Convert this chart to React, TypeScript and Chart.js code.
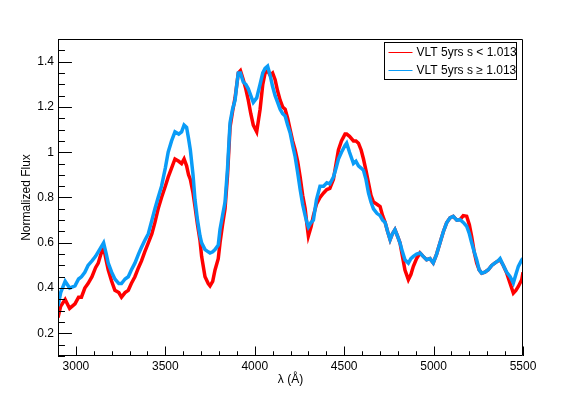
import React, { useEffect, useRef } from "react";
import { Chart, registerables } from "chart.js";

Chart.register(...registerables);

const WAVELENGTH = [
  2900, 2915, 2940, 2965, 2995, 3015, 3031, 3050, 3068, 3090, 3110, 3125, 3140, 3155, 3170, 3181,
  3200, 3218, 3240, 3255, 3275, 3293, 3310, 3330, 3350, 3367, 3385, 3405, 3425, 3442, 3460, 3479,
  3500, 3516, 3535, 3554, 3575, 3591, 3605, 3619, 3630, 3640, 3655, 3666, 3680, 3694, 3703, 3722,
  3740, 3750, 3765, 3778, 3796, 3806, 3820, 3834, 3848, 3862, 3876, 3890, 3900, 3908, 3920, 3936,
  3950, 3964, 3978, 3992, 4011, 4030, 4045, 4058, 4072, 4086, 4100, 4114, 4128, 4142, 4156, 4170,
  4184, 4198, 4212, 4226, 4240, 4254, 4268, 4282, 4292, 4300, 4315, 4328, 4345, 4365, 4385, 4403,
  4420, 4440, 4455, 4468, 4485, 4505, 4514, 4530, 4552, 4566, 4580, 4595, 4608, 4622, 4636, 4650,
  4664, 4683, 4701, 4715, 4729, 4743, 4757, 4770, 4784, 4798, 4812, 4826, 4840, 4859, 4873, 4887,
  4905, 4924, 4942, 4961, 4980, 4998, 5017, 5036, 5055, 5073, 5092, 5110, 5130, 5148, 5166, 5185,
  5200, 5213, 5227, 5241, 5255, 5269, 5287, 5306, 5325, 5344, 5360, 5372, 5390, 5409, 5428, 5446,
  5460, 5474, 5493, 5500,
];

const FLUX_LOW_S = [
  0.27, 0.32, 0.35, 0.31, 0.33, 0.36, 0.36, 0.40, 0.42, 0.45, 0.49, 0.51, 0.55, 0.58, 0.52, 0.48,
  0.43, 0.39, 0.38, 0.36, 0.38, 0.39, 0.42, 0.45, 0.49, 0.52, 0.56, 0.60, 0.64, 0.69, 0.75, 0.80,
  0.85, 0.89, 0.93, 0.97, 0.96, 0.95, 0.97, 0.94, 0.90, 0.88, 0.82, 0.76, 0.68, 0.61, 0.54, 0.45,
  0.42, 0.41, 0.43, 0.48, 0.53, 0.60, 0.68, 0.75, 0.90, 1.11, 1.18, 1.24, 1.30, 1.35, 1.36, 1.32,
  1.28, 1.23, 1.17, 1.12, 1.09, 1.19, 1.30, 1.35, 1.36, 1.34, 1.35, 1.32, 1.27, 1.23, 1.20, 1.19,
  1.15, 1.10, 1.05, 1.01, 0.96, 0.89, 0.81, 0.75, 0.68, 0.63, 0.67, 0.72, 0.77, 0.80, 0.82, 0.835,
  0.84, 0.88, 0.95, 1.01, 1.05, 1.08, 1.08, 1.07, 1.05, 1.05, 1.04, 1.01, 0.97, 0.92, 0.865, 0.81,
  0.78, 0.77, 0.76, 0.72, 0.69, 0.65, 0.614, 0.64, 0.658, 0.63, 0.60, 0.54, 0.48, 0.437, 0.46, 0.496,
  0.53, 0.555, 0.54, 0.525, 0.53, 0.511, 0.55, 0.60, 0.65, 0.688, 0.71, 0.717, 0.70, 0.702, 0.72, 0.717,
  0.68, 0.628, 0.56, 0.511, 0.48, 0.466, 0.47, 0.481, 0.50, 0.511, 0.52, 0.525, 0.50, 0.466, 0.42, 0.378,
  0.39, 0.407, 0.437, 0.47,
];

const FLUX_HIGH_S = [
  0.32, 0.38, 0.43, 0.40, 0.41, 0.44, 0.45, 0.47, 0.50, 0.52, 0.54, 0.56, 0.58, 0.60, 0.55, 0.51,
  0.47, 0.44, 0.42, 0.42, 0.44, 0.45, 0.48, 0.51, 0.55, 0.58, 0.61, 0.64, 0.70, 0.75, 0.80, 0.85,
  0.93, 1.00, 1.05, 1.09, 1.08, 1.09, 1.12, 1.11, 1.06, 1.01, 0.90, 0.79, 0.70, 0.63, 0.60, 0.57,
  0.56, 0.555, 0.56, 0.57, 0.59, 0.66, 0.72, 0.78, 0.93, 1.13, 1.19, 1.23, 1.30, 1.35, 1.35, 1.31,
  1.30, 1.28, 1.25, 1.22, 1.24, 1.30, 1.35, 1.37, 1.38, 1.34, 1.29, 1.25, 1.22, 1.19, 1.17, 1.16,
  1.12, 1.085, 1.03, 0.98, 0.91, 0.835, 0.77, 0.72, 0.69, 0.67, 0.69, 0.70, 0.79, 0.85, 0.85, 0.865,
  0.86, 0.89, 0.93, 0.97, 1.00, 1.03, 1.04, 1.00, 0.95, 0.96, 0.94, 0.93, 0.92, 0.88, 0.82, 0.78,
  0.75, 0.73, 0.72, 0.70, 0.69, 0.65, 0.614, 0.64, 0.658, 0.63, 0.60, 0.56, 0.525, 0.51, 0.53, 0.54,
  0.55, 0.555, 0.54, 0.525, 0.53, 0.511, 0.55, 0.60, 0.65, 0.688, 0.71, 0.717, 0.70, 0.702, 0.69, 0.673,
  0.64, 0.60, 0.56, 0.525, 0.48, 0.466, 0.47, 0.481, 0.50, 0.511, 0.52, 0.53, 0.50, 0.47, 0.45, 0.422,
  0.46, 0.496, 0.525, 0.53,
];

const SERIES_LABELS = ["VLT 5yrs s < 1.013", "VLT 5yrs s \u2265 1.013"];
const SERIES_COLORS = ["#ff0000", "#0a9cf7"];

const X_MIN = 2900;
const X_MAX = 5500;
const Y_MIN = 0.1;
const Y_MAX = 1.5;
const X_MAJOR = 500;
const X_MINOR = 100;
const Y_MAJOR = 0.2;
const Y_MINOR = 0.05;

const FONT = "'Liberation Sans', Arial, Helvetica, sans-serif";

const isMultiple = (v: number, step: number) => {
  const r = v / step;
  return Math.abs(r - Math.round(r)) < 1e-6;
};

const framePlugin = {
  id: "rootFrame",
  afterDraw(chart: any) {
    const { ctx, chartArea } = chart;
    const xs = chart.scales.x;
    const ys = chart.scales.y;
    const { left, right, top, bottom } = chartArea;
    ctx.save();
    ctx.strokeStyle = "#000";
    ctx.lineWidth = 1;
    ctx.beginPath();
    ctx.rect(Math.round(left) + 0.5, Math.round(top) + 0.5, Math.round(right - left) - 1, Math.round(bottom - top) - 1);
    ctx.stroke();
    const w = right - left;
    const h = bottom - top;
    ctx.beginPath();
    const nx = Math.round((X_MAX - X_MIN) / X_MINOR);
    for (let i = 0; i <= nx; i++) {
      const v = X_MIN + i * X_MINOR;
      const px = Math.round(xs.getPixelForValue(v)) + 0.5;
      const len = isMultiple(v, X_MAJOR) ? h * 0.03 : h * 0.015;
      ctx.moveTo(px, bottom);
      ctx.lineTo(px, bottom - len);
    }
    const ny = Math.round((Y_MAX - Y_MIN) / Y_MINOR);
    for (let i = 0; i <= ny; i++) {
      const v = Y_MIN + i * Y_MINOR;
      const py = Math.round(ys.getPixelForValue(v)) + 0.5;
      const len = isMultiple(v, Y_MAJOR) ? w * 0.03 : w * 0.015;
      ctx.moveTo(left, py);
      ctx.lineTo(left + len, py);
    }
    ctx.stroke();

    // legend box (ROOT TLegend style)
    const bx = 384.5, by = 42.5, bw = 132, bh = 37;
    ctx.fillStyle = "#fff";
    ctx.fillRect(bx, by, bw, bh);
    ctx.strokeStyle = "#000";
    ctx.strokeRect(bx, by, bw, bh);
    ctx.font = `12px ${FONT}`;
    ctx.textBaseline = "middle";
    ctx.textAlign = "left";
    chart.data.datasets.forEach((ds: any, i: number) => {
      const cy = Math.round(by + 9.5 + i * 17.5) + 0.5;
      ctx.strokeStyle = ds.borderColor;
      ctx.lineWidth = 1;
      ctx.beginPath();
      ctx.moveTo(bx + 4, cy);
      ctx.lineTo(bx + 28, cy);
      ctx.stroke();
      ctx.fillStyle = "#000";
      ctx.fillText(ds.label, bx + 32, cy);
    });
    ctx.restore();
  },
};

export default function App() {
  const ref = useRef<HTMLCanvasElement | null>(null);

  useEffect(() => {
    document.body.style.margin = "0";
    if (!ref.current) return;
    const chart = new Chart(ref.current, {
      type: "line",
      data: {
        datasets: [
          {
            label: SERIES_LABELS[0],
            data: WAVELENGTH.map((x, i) => ({ x, y: FLUX_LOW_S[i] })),
            borderColor: SERIES_COLORS[0],
            backgroundColor: SERIES_COLORS[0],
            borderWidth: 3.5,
            pointRadius: 0,
            tension: 0,
            order: 2,
          },
          {
            label: SERIES_LABELS[1],
            data: WAVELENGTH.map((x, i) => ({ x, y: FLUX_HIGH_S[i] })),
            borderColor: SERIES_COLORS[1],
            backgroundColor: SERIES_COLORS[1],
            borderWidth: 3.5,
            pointRadius: 0,
            tension: 0,
            order: 1,
          },
        ],
      },
      options: {
        animation: false,
        responsive: false,
        maintainAspectRatio: false,
        layout: { padding: { left: 0, top: 39, right: 58, bottom: 0 } },
        plugins: { legend: { display: false }, tooltip: { enabled: false } },
        scales: {
          x: {
            type: "linear",
            min: X_MIN,
            max: X_MAX,
            grid: { display: false, drawTicks: false },
            border: { display: false },
            afterBuildTicks: (s: any) => {
              s.ticks = s.ticks.filter((t: any) => isMultiple(t.value, X_MAJOR));
            },
            afterFit: (s: any) => {
              s.height = 40;
            },
            ticks: {
              stepSize: X_MINOR,
              autoSkip: false,
              maxRotation: 0,
              padding: 3,
              color: "#000",
              font: { family: FONT, size: 12 },
              callback: (v: any) => String(v),
            },
            title: {
              display: true,
              text: "\u03bb (\u00c5)",
              color: "#000",
              font: { family: FONT, size: 12 },
              padding: { top: 0, bottom: 9 },
            },
          },
          y: {
            type: "linear",
            min: Y_MIN,
            max: Y_MAX,
            grid: { display: false, drawTicks: false },
            border: { display: false },
            afterBuildTicks: (s: any) => {
              s.ticks = s.ticks.filter((t: any) => isMultiple(t.value, Y_MAJOR));
            },
            afterFit: (s: any) => {
              s.width = 58;
            },
            ticks: {
              stepSize: Y_MINOR * 2,
              autoSkip: false,
              padding: 4,
              color: "#000",
              font: { family: FONT, size: 12 },
              callback: (v: any) => String(Number(Number(v).toFixed(2))),
            },
            title: {
              display: true,
              text: "Normalized Flux",
              color: "#000",
              font: { family: FONT, size: 12 },
              padding: { top: 19, bottom: 0 },
            },
          },
        },
      },
      plugins: [framePlugin],
    });
    return () => chart.destroy();
  }, []);

  return (
    <div style={{ position: "relative", width: 581, height: 396, background: "#fff" }}>
      <canvas ref={ref} width={581} height={396} style={{ display: "block" }} />
    </div>
  );
}
